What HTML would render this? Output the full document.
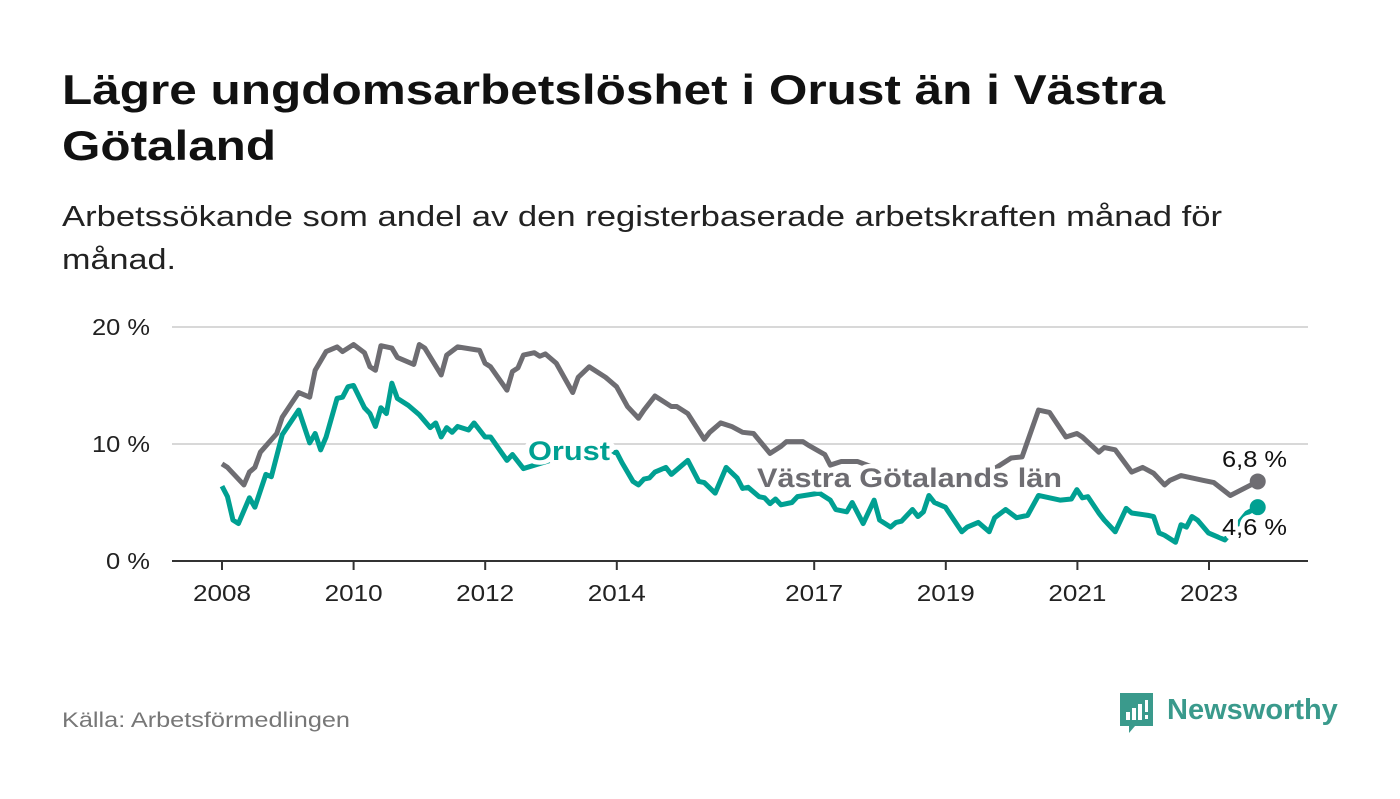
<!DOCTYPE html>
<html><head><meta charset="utf-8"><style>
body{margin:0;width:1400px;height:794px;background:#fff;font-family:"Liberation Sans",sans-serif;overflow:hidden}
</style></head><body>
<svg width="1400" height="794" xmlns="http://www.w3.org/2000/svg">
<text x="62" y="104" font-size="42" font-weight="bold" fill="#111" textLength="1103" lengthAdjust="spacingAndGlyphs">Lägre ungdomsarbetslöshet i Orust än i Västra</text>
<text x="62" y="160" font-size="42" font-weight="bold" fill="#111" textLength="214" lengthAdjust="spacingAndGlyphs">Götaland</text>
<text x="62" y="226" font-size="29" fill="#222" textLength="1160" lengthAdjust="spacingAndGlyphs">Arbetssökande som andel av den registerbaserade arbetskraften månad för</text>
<text x="62" y="269" font-size="29" fill="#222" textLength="114" lengthAdjust="spacingAndGlyphs">månad.</text>
<g id="grid"></g><g id="lines"></g><g id="labels"></g>
<text x="62" y="727" font-size="21" fill="#777" textLength="288" lengthAdjust="spacingAndGlyphs">Källa: Arbetsförmedlingen</text>
<g>
<path d="M1120 693 h33 v33 h-18 l-6 7 v-7 h-9 z" fill="#3a9a8c"/>
<rect x="1126" y="712" width="4" height="8" fill="#fff"/><rect x="1132" y="708" width="4" height="12" fill="#fff"/><rect x="1138" y="704" width="4" height="16" fill="#fff"/><rect x="1145" y="700" width="3" height="12" fill="#fff"/><rect x="1145" y="715" width="3" height="4" fill="#fff"/>
<text x="1167" y="719" font-size="29" font-weight="bold" fill="#3a9a8c">Newsworthy</text></g>
</svg>
<script>
const yTicks=[0,10,20];
const yTickLabels=["0 %","10 %","20 %"];
const xTickYears=[2008,2010,2012,2014,2017,2019,2021,2023];
const vgMonths=[0,1,4,5,6,7,10,11,14,16,17,19,21,22,24,26,27,28,29,31,32,35,36,37,40,41,43,47,48,49,52,53,54,55,57,58,59,61,64,65,67,70,72,74,76,77,79,82,83,85,88,89,91,93,95,97,100,102,103,106,107,110,111,113,116,120,129,135,140,144,146,149,151,154,156,157,160,161,163,166,168,170,172,173,175,177,179,181,184,189];
const vgValues=[8.3,8.0,6.5,7.6,8.0,9.3,10.9,12.3,14.4,14.0,16.3,17.9,18.3,17.9,18.5,17.8,16.6,16.3,18.4,18.2,17.4,16.8,18.5,18.2,15.9,17.6,18.3,18.0,16.9,16.6,14.6,16.2,16.5,17.6,17.8,17.5,17.7,16.9,14.4,15.7,16.6,15.7,14.9,13.2,12.2,12.9,14.1,13.2,13.2,12.6,10.4,11.0,11.8,11.5,11.0,10.9,9.2,9.8,10.2,10.2,9.9,9.1,8.2,8.5,8.5,7.8,7.2,7.2,7.6,8.8,8.9,12.9,12.7,10.6,10.9,10.6,9.3,9.7,9.5,7.6,8.0,7.5,6.5,6.9,7.3,7.1,6.9,6.7,5.6,6.8];
const orMonths=[0,1,2,3,5,6,8,9,11,14,16,17,18,19,21,22,23,24,26,27,28,29,30,31,32,34,36,38,39,40,41,42,43,45,46,48,49,52,53,55,62,68,72,73,75,76,77,78,79,81,82,85,87,88,90,92,94,95,96,98,99,100,101,102,104,105,109,111,112,114,115,117,119,120,122,123,124,126,127,128,129,130,132,135,136,138,140,141,143,145,147,149,153,155,156,157,158,160,161,163,165,166,169,170,171,172,174,175,176,177,178,180,183,187,189];
const orValues=[6.4,5.5,3.5,3.2,5.4,4.6,7.4,7.2,10.8,12.9,10.1,10.9,9.5,10.6,13.9,14.0,14.9,15.0,13.1,12.6,11.5,13.1,12.6,15.2,13.9,13.3,12.5,11.4,11.8,10.6,11.4,11.0,11.5,11.2,11.8,10.6,10.6,8.6,9.1,7.9,8.9,9.0,9.3,8.4,6.8,6.5,7.0,7.1,7.6,8.0,7.4,8.6,6.8,6.7,5.8,8.0,7.1,6.2,6.3,5.5,5.4,4.9,5.3,4.8,5.0,5.5,5.8,5.2,4.4,4.2,5.0,3.2,5.2,3.5,2.9,3.3,3.4,4.4,3.8,4.2,5.6,5.0,4.6,2.5,2.9,3.3,2.5,3.7,4.4,3.7,3.9,5.6,5.2,5.3,6.1,5.4,5.5,4.1,3.5,2.5,4.5,4.1,3.9,3.8,2.4,2.2,1.6,3.1,2.9,3.8,3.5,2.4,1.8,4.1,4.6];
const NS="http://www.w3.org/2000/svg";
const y=v=>561-v*11.7;
const xm=m=>222+m*5.48;
const xy=yr=>222+(yr-2008)*65.8;
function mk(t,a,p){const e=document.createElementNS(NS,t);for(const k in a)e.setAttribute(k,a[k]);p.appendChild(e);return e;}
const G=document.getElementById('grid'),L=document.getElementById('lines'),T=document.getElementById('labels');
yTicks.forEach((v,i)=>{
 if(v>0){const g=mk('line',{x1:172,x2:1308,y1:y(v),y2:y(v),stroke:'#d8d8d8','stroke-width':2},G);
 
 }
 const t=mk('text',{x:150,y:y(v)+8,'text-anchor':'end','font-size':23,fill:'#222',textLength:v>0?58:44,lengthAdjust:'spacingAndGlyphs'},G);t.textContent=yTickLabels[i];
 
 
});
const ax=mk('line',{x1:172,x2:1308,y1:561,y2:561,stroke:'#333','stroke-width':2},G);


xTickYears.forEach(yr=>{
 mk('line',{x1:xy(yr),x2:xy(yr),y1:561,y2:570,stroke:'#333','stroke-width':2},G);
 const t=mk('text',{x:xy(yr),y:601,'text-anchor':'middle','font-size':23,fill:'#222',textLength:58,lengthAdjust:'spacingAndGlyphs'},G);t.textContent=yr;
 
 
});
function line(ms,vs,c,name){
 const p=mk('path',{d:ms.map((m,i)=>(i?'L':'M')+xm(m)+' '+y(vs[i])).join(' '),fill:'none',stroke:c,'stroke-width':5,'stroke-linejoin':'round'},L);
 
 
 const n=ms.length-1;
 const d=mk('circle',{cx:xm(ms[n]),cy:y(vs[n]),r:8,fill:c},L);
 
 
}
line(vgMonths,vgValues,'#6e6d72','vastra-gotaland-line');
line(orMonths,orValues,'#00a092','orust-line');
function lab(x,yy,s,txt,c,b,w,name){
 const t=mk('text',{x:x,y:yy,'font-size':s,'font-weight':b?'bold':'normal',fill:c,stroke:'#fff','stroke-width':9,'paint-order':'stroke','stroke-linejoin':'round',textLength:w,lengthAdjust:'spacingAndGlyphs'},T);t.textContent=txt;
 
 
}
lab(528,460,27,'Orust','#00a092',true,82,'orust-label');
lab(757,487,27,'Västra Götalands län','#6e6d72',true,305,'vastra-gotaland-label');
lab(1222,467,23,vgValues[vgValues.length-1].toString().replace('.',',')+' %','#111',false,65,'vastra-gotaland-value');
lab(1222,535,23,orValues[orValues.length-1].toString().replace('.',',')+' %','#111',false,65,'orust-value');
</script>
</body></html>
